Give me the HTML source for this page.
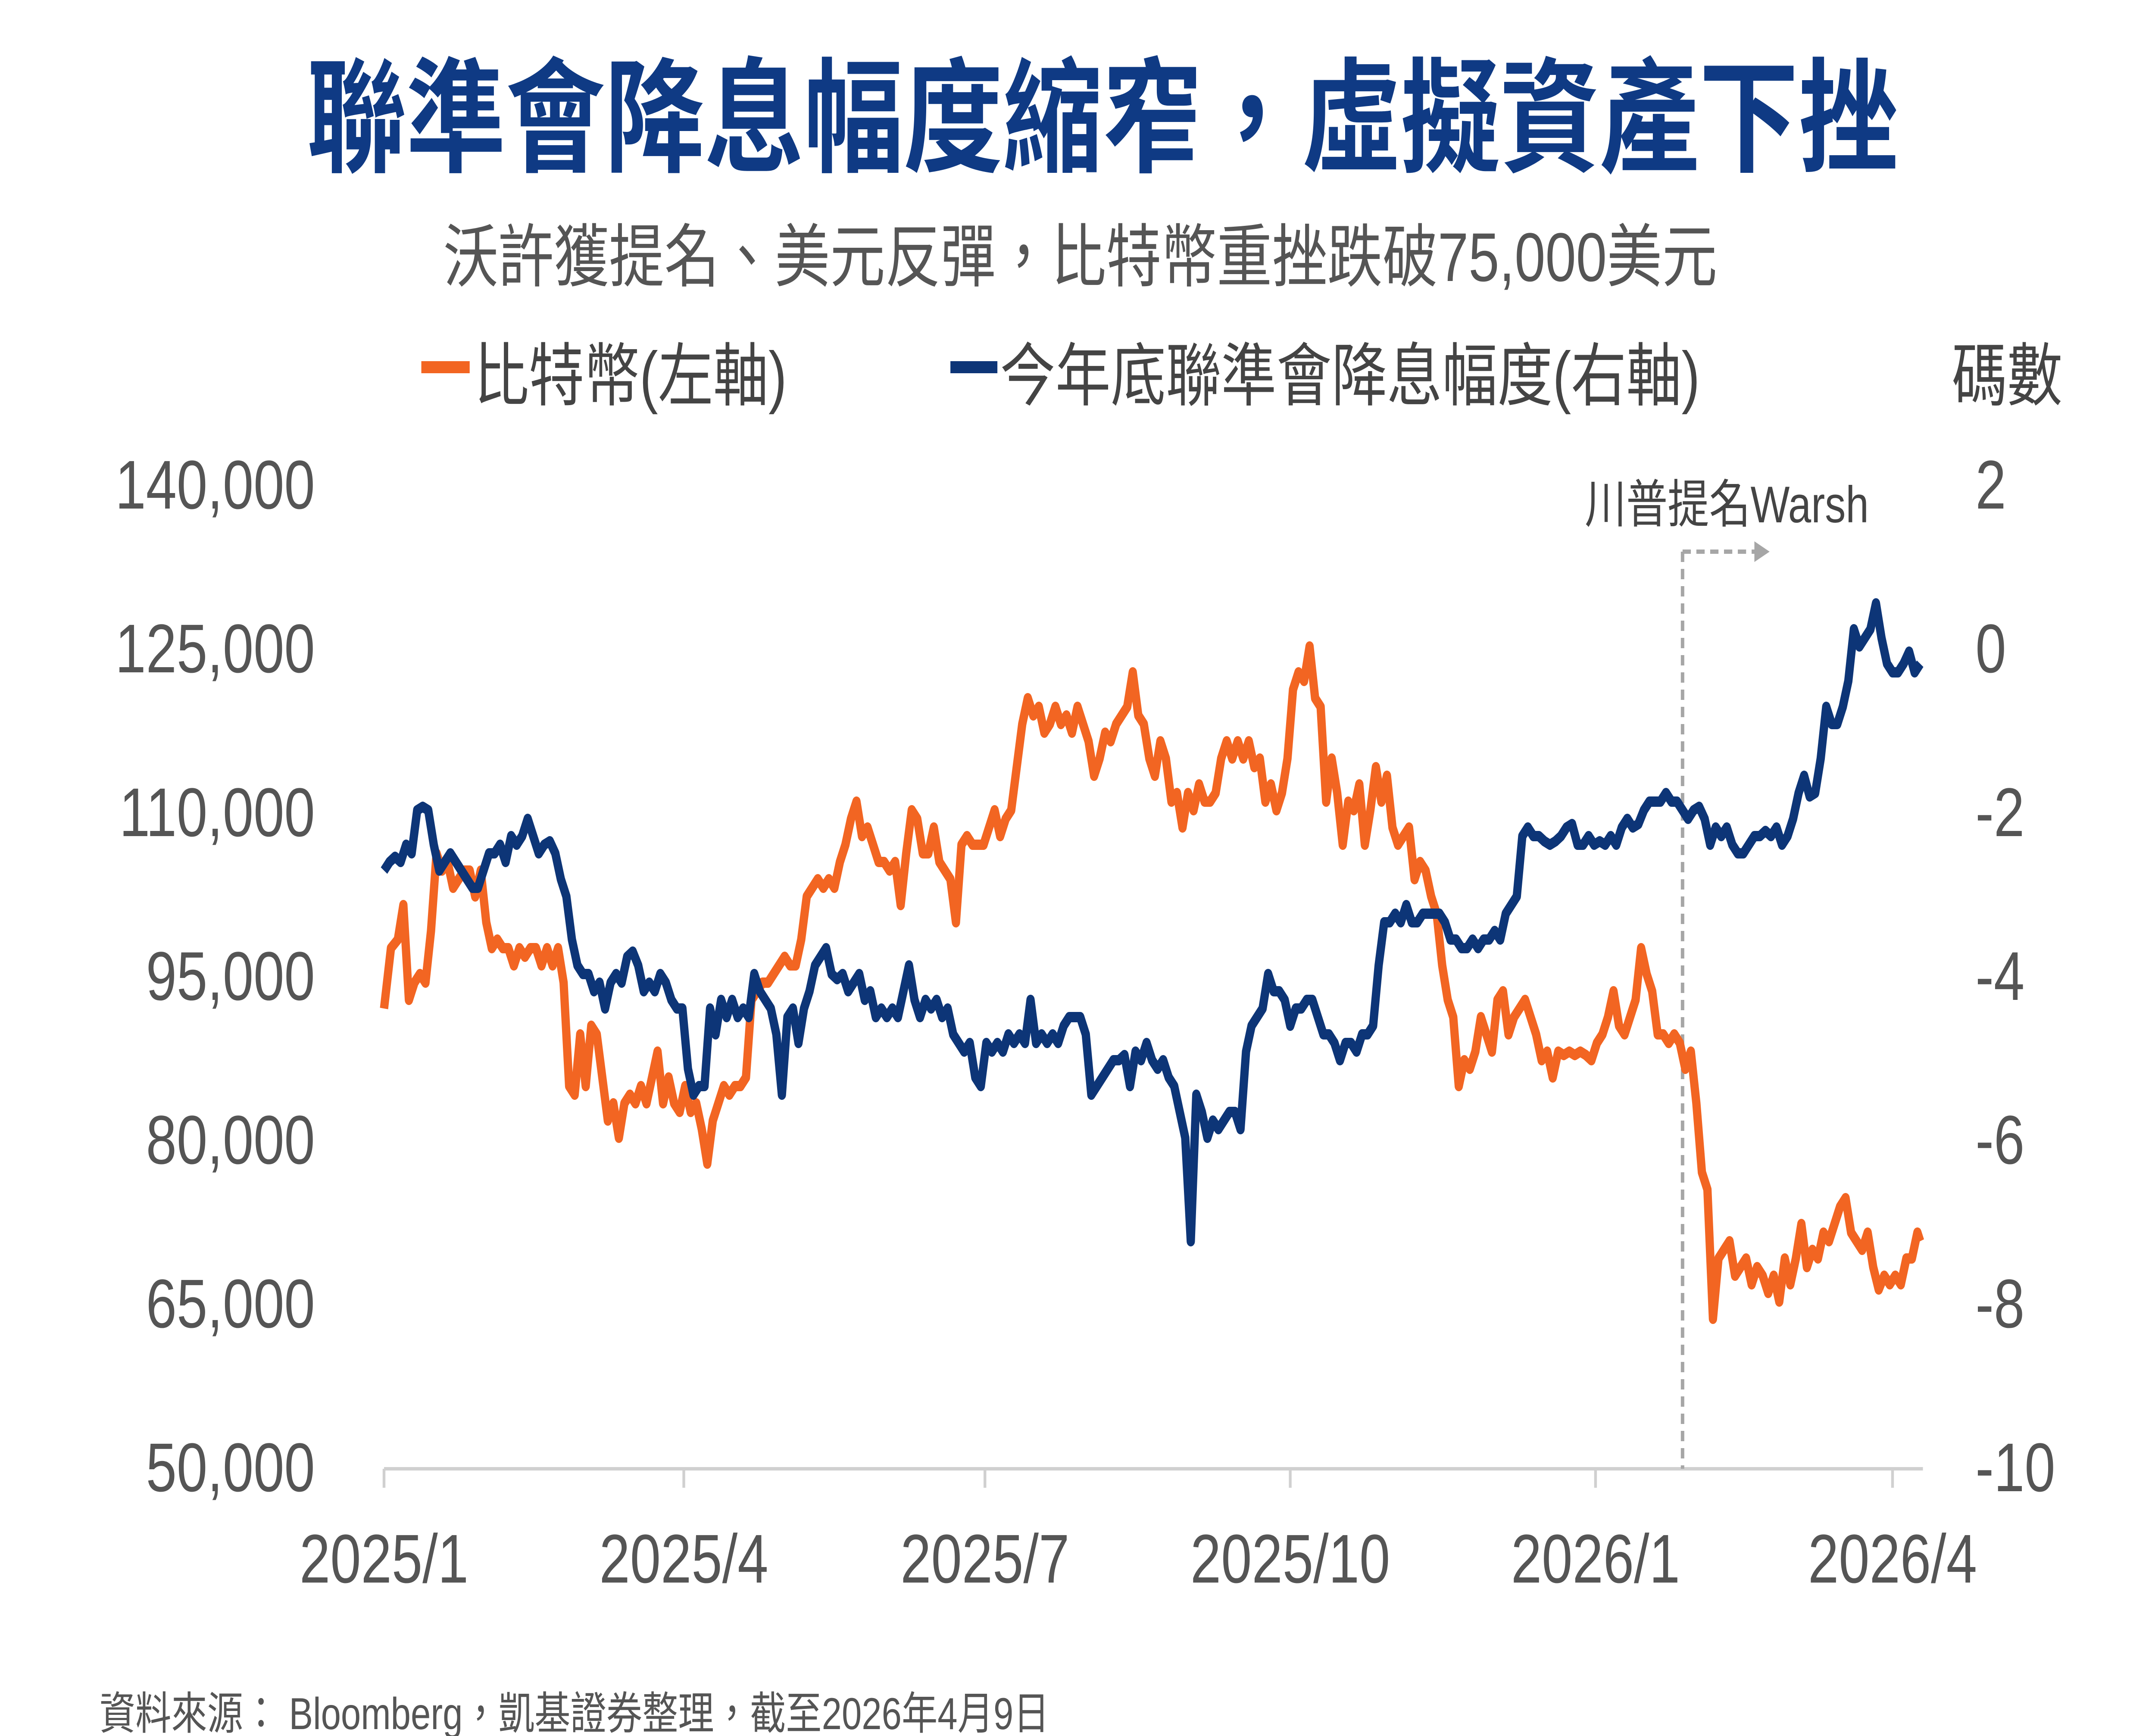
<!DOCTYPE html>
<html><head><meta charset="utf-8"><style>
html,body{margin:0;padding:0;background:#fff;width:100%;height:100%;overflow:hidden;}
svg{display:block;width:100vw;height:100vh;}
text{font-family:"Liberation Sans","Noto Sans CJK TC",sans-serif;}
</style></head><body>
<svg viewBox="0 0 1560 1007" preserveAspectRatio="none" xmlns="http://www.w3.org/2000/svg">
<rect width="1560" height="1007" fill="#fff"/>
<text x="798" y="94" text-anchor="middle" font-size="72" font-weight="bold" fill="#0f3a84">聯準會降息幅度縮窄，虛擬資產下挫</text>
<text x="782" y="163" text-anchor="middle" font-size="40" fill="#555">沃許獲提名、美元反彈，比特幣重挫跌破75,000美元</text>
<line x1="305" y1="213" x2="340" y2="213" stroke="#f26522" stroke-width="7"/>
<text x="343" y="232" font-size="40" fill="#444">比特幣(左軸)</text>
<line x1="688" y1="213" x2="722" y2="213" stroke="#0d3577" stroke-width="7"/>
<text x="724" y="232" font-size="40" fill="#444">今年底聯準會降息幅度(右軸)</text>
<text x="1413" y="232" font-size="40" fill="#444">碼數</text>
<g font-size="40" fill="#555" text-anchor="end">
<text x="228" y="295">140,000</text><text x="228" y="390">125,000</text><text x="228" y="485">110,000</text><text x="228" y="580">95,000</text><text x="228" y="675">80,000</text><text x="228" y="770">65,000</text><text x="228" y="865">50,000</text>
</g>
<g font-size="40" fill="#555">
<text x="1430" y="295">2</text><text x="1430" y="390">0</text><text x="1430" y="485">-2</text><text x="1430" y="580">-4</text><text x="1430" y="675">-6</text><text x="1430" y="770">-8</text><text x="1430" y="865">-10</text>
</g>
<line x1="278" y1="852" x2="1392" y2="852" stroke="#d0d0d0" stroke-width="2"/>
<g stroke="#d0d0d0" stroke-width="2">
<line x1="278" y1="852" x2="278" y2="863"/><line x1="495" y1="852" x2="495" y2="863"/><line x1="713" y1="852" x2="713" y2="863"/><line x1="934" y1="852" x2="934" y2="863"/><line x1="1155" y1="852" x2="1155" y2="863"/><line x1="1370" y1="852" x2="1370" y2="863"/>
</g>
<g font-size="40" fill="#555" text-anchor="middle">
<text x="278" y="918">2025/1</text><text x="495" y="918">2025/4</text><text x="713" y="918">2025/7</text><text x="934" y="918">2025/10</text><text x="1155" y="918">2026/1</text><text x="1370" y="918">2026/4</text>
</g>
<line x1="1218" y1="320" x2="1218" y2="852" stroke="#a6a6a6" stroke-width="2.5" stroke-dasharray="6,4"/>
<line x1="1218" y1="320" x2="1272" y2="320" stroke="#a6a6a6" stroke-width="2.5" stroke-dasharray="6,4"/>
<polygon points="1270,314 1281,320 1270,326" fill="#a6a6a6"/>
<text x="1250" y="303" text-anchor="middle" font-size="30" fill="#444">川普提名Warsh</text>
<polyline fill="none" stroke="#f26522" stroke-width="6" stroke-linejoin="round" points="278,585 283,550 288,545 292,525 296,580 300,570 304,565 308,570 312,540 316,495 320,505 324,500 328,515 332,510 336,505 340,505 344,520 348,505 352,535 356,550 360,545 364,550 368,550 372,560 376,550 380,555 384,550 388,550 392,560 396,550 400,560 404,550 408,570 412,630 416,635 420,600 424,630 428,595 432,600 436,625 440,650 444,640 448,660 452,640 456,635 460,640 464,630 468,640 472,625 476,610 480,640 484,625 488,640 492,645 496,630 500,645 504,640 508,655 512,675 516,650 520,640 524,630 528,635 532,630 536,630 540,625 544,580 548,575 552,570 556,570 560,565 564,560 568,555 572,560 576,560 580,545 584,520 588,515 592,510 596,515 600,510 604,515 608,500 612,490 616,475 620,465 624,485 628,480 632,490 636,500 640,500 644,505 648,500 652,525 656,495 660,470 664,475 668,495 672,495 676,480 680,500 684,505 688,510 692,535 696,490 700,485 704,490 708,490 712,490 716,480 720,470 724,485 728,475 732,470 736,445 740,420 744,405 748,415 752,410 756,425 760,420 764,410 768,420 772,415 776,425 780,410 784,420 788,430 792,450 796,440 800,425 804,430 808,420 812,415 816,410 820,390 824,415 828,420 832,440 836,450 840,430 844,440 848,465 852,460 856,480 860,460 864,470 868,455 872,465 876,465 880,460 884,440 888,430 892,440 896,430 900,440 904,430 908,445 912,440 916,465 920,455 924,470 928,460 932,440 936,400 940,390 944,395 948,375 952,405 956,410 960,465 964,440 968,460 972,490 976,465 980,470 984,455 988,490 992,470 996,445 1000,465 1004,450 1008,480 1012,490 1016,485 1020,480 1024,510 1028,500 1032,505 1036,520 1040,530 1044,560 1048,580 1052,590 1056,630 1060,615 1064,620 1068,610 1072,590 1076,600 1080,610 1084,580 1088,575 1092,600 1096,590 1100,585 1104,580 1108,590 1112,600 1116,615 1120,610 1124,625 1128,610 1132,612 1136,610 1140,612 1144,610 1148,612 1152,615 1156,605 1160,600 1164,590 1168,575 1172,595 1176,600 1180,590 1184,580 1188,550 1192,565 1196,575 1200,600 1204,600 1208,605 1212,600 1216,605 1220,620 1224,610 1228,640 1232,680 1236,690 1240,765 1244,730 1248,725 1252,720 1256,740 1260,735 1264,730 1268,745 1272,735 1276,740 1280,750 1284,740 1288,755 1292,730 1296,745 1300,730 1304,710 1308,735 1312,725 1316,730 1320,715 1324,720 1328,710 1332,700 1336,695 1340,715 1344,720 1348,725 1352,715 1356,735 1360,748 1364,740 1368,745 1372,740 1376,745 1380,730 1384,730 1388,715 1390,720"/>
<polyline fill="none" stroke="#0d3577" stroke-width="6" stroke-linejoin="round" points="278,505 282,500 286,497 290,500 294,490 298,495 302,470 306,468 310,470 314,490 318,505 322,500 326,495 330,500 334,505 338,510 342,515 346,515 350,505 354,495 358,495 362,490 366,500 370,485 374,490 378,485 382,475 386,485 390,495 394,490 398,488 402,495 406,510 410,520 414,545 418,560 422,565 426,565 430,575 434,570 438,585 442,570 446,565 450,570 454,555 458,552 462,560 466,575 470,570 474,575 478,565 482,570 486,580 490,585 494,585 498,620 502,635 506,630 510,630 514,585 518,600 522,580 526,590 530,580 534,590 538,585 542,590 546,565 550,575 554,580 558,585 562,600 566,635 570,590 574,585 578,605 582,585 586,575 590,560 594,555 598,550 602,565 606,568 610,565 614,575 618,570 622,565 626,580 630,575 634,590 638,585 642,590 646,585 650,590 654,575 658,560 662,580 666,590 670,580 674,585 678,580 682,590 686,585 690,600 694,605 698,610 702,605 706,625 710,630 714,605 718,610 722,605 726,610 730,600 734,605 738,600 742,605 746,580 750,605 754,600 758,605 762,600 766,605 770,595 774,590 778,590 782,590 786,600 790,635 794,630 798,625 802,620 806,615 810,615 814,612 818,630 822,610 826,615 830,605 834,615 838,620 842,615 846,625 850,630 854,645 858,660 862,720 866,635 870,645 874,660 878,650 882,655 886,650 890,645 894,645 898,655 902,610 906,595 910,590 914,585 918,565 922,575 926,575 930,580 934,595 938,585 942,585 946,580 950,580 954,590 958,600 962,600 966,605 970,615 974,605 978,605 982,610 986,600 990,600 994,595 998,560 1002,535 1006,535 1010,530 1014,535 1018,525 1022,535 1026,535 1030,530 1034,530 1038,530 1042,530 1046,535 1050,545 1054,545 1058,550 1062,550 1066,545 1070,550 1074,545 1078,545 1082,540 1086,545 1090,530 1094,525 1098,520 1102,485 1106,480 1110,485 1114,485 1118,488 1122,490 1126,488 1130,485 1134,480 1138,478 1142,490 1146,490 1150,485 1154,490 1158,488 1162,490 1166,485 1170,490 1174,480 1178,475 1182,480 1186,478 1190,470 1194,465 1198,465 1202,465 1206,460 1210,465 1214,465 1218,470 1222,475 1226,470 1230,468 1234,475 1238,490 1242,480 1246,485 1250,480 1254,490 1258,495 1262,495 1266,490 1270,485 1274,485 1278,482 1282,485 1286,480 1290,490 1294,485 1298,475 1302,460 1306,450 1310,462 1314,460 1318,440 1322,410 1326,420 1330,420 1334,410 1338,395 1342,365 1346,375 1350,370 1354,365 1358,350 1362,370 1366,385 1370,390 1374,390 1378,385 1382,378 1386,390 1390,385"/>
<text x="72" y="1003" font-size="26" fill="#555">資料來源： Bloomberg，凱基證券整理，截至2026年4月9日</text>
</svg>
</body></html>
